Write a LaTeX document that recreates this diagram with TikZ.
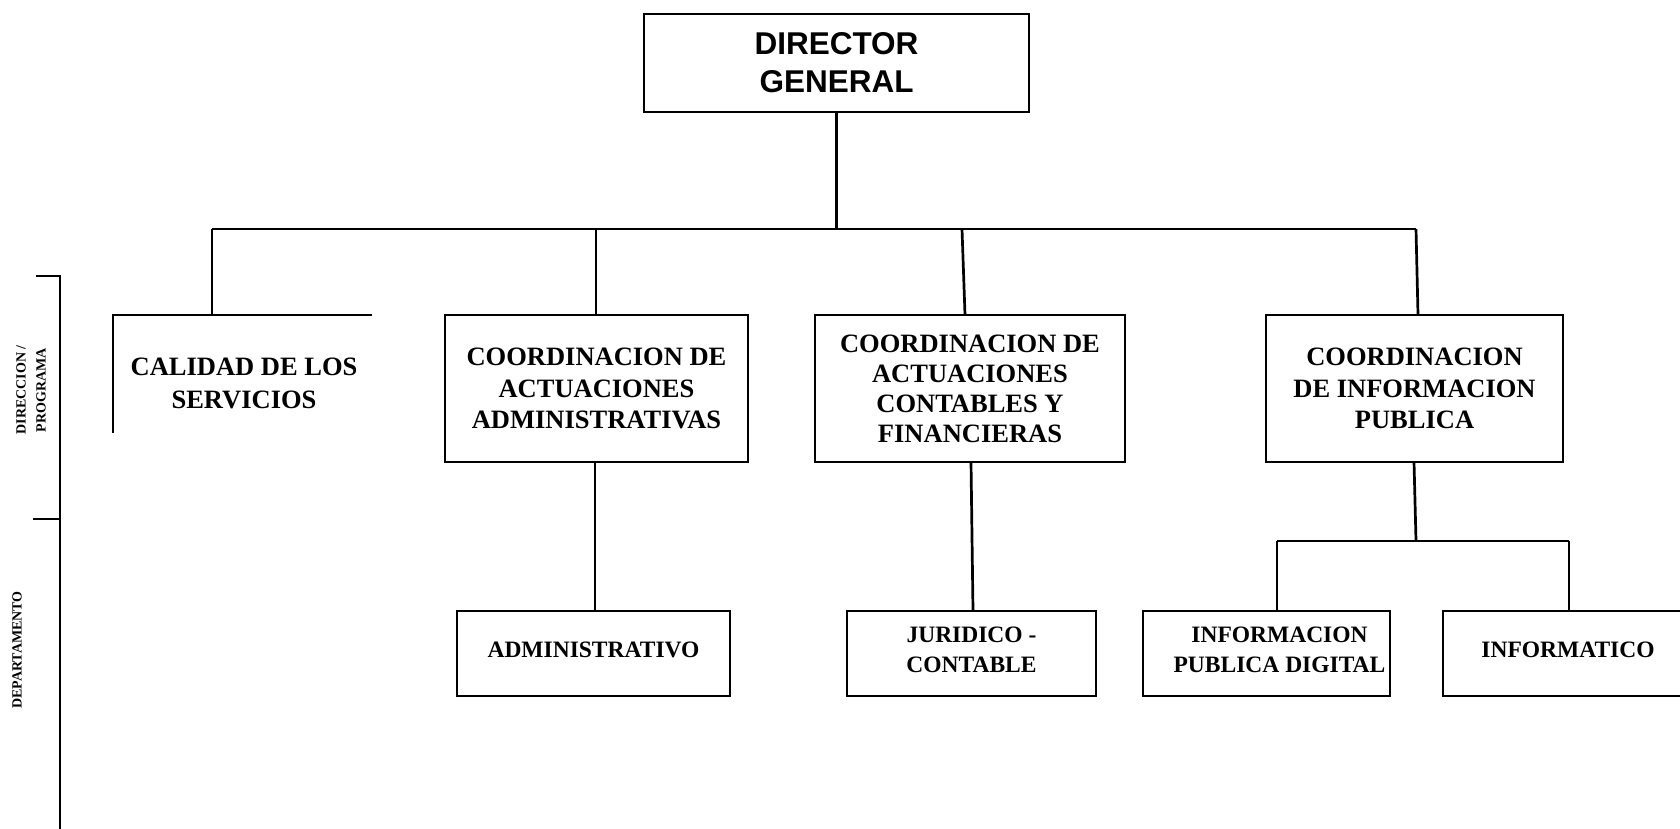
\documentclass[tikz,border=0pt]{standalone}
\usepackage{fontspec}
\setmainfont{Liberation Serif}
\newfontfamily\arialfont{Liberation Sans}
\begin{document}
\begin{tikzpicture}[x=1pt,y=-1pt,
  box/.style={draw, line width=2.3pt, rectangle, inner sep=0pt, align=center},
  coordtxt/.style={font=\bfseries\fontsize{26.5}{31.5}\selectfont},
  deptxt/.style={font=\bfseries\fontsize{23.5}{30.5}\selectfont, text depth=8pt},
  sidetxt/.style={font=\bfseries\fontsize{14}{20}\selectfont, align=center, rotate=90, inner sep=0pt},
  conn/.style={line width=2.7pt}]
\useasboundingbox (0,0) rectangle (1680,828);
\clip (0,0) rectangle (1680,828);

% Director
\node[box, minimum width=385pt, minimum height=98pt,
      font=\arialfont\bfseries\fontsize{31.5}{38}\selectfont] (dir) at (836.5,63) {DIRECTOR\\GENERAL};

% Level 1
\node[align=center, inner sep=0pt, font=\bfseries\fontsize{26.5}{33}\selectfont] (cal) at (244,383) {CALIDAD DE LOS\\SERVICIOS};
\coordinate (calTL) at (113,315);
\coordinate (calTR) at (372,315);
\coordinate (calBL) at (113,433);
\coordinate (calTop) at (212,315);

\node[box, coordtxt, minimum width=303pt, minimum height=147pt] (cadm) at (596.5,388.5) {COORDINACION DE\\ACTUACIONES\\ADMINISTRATIVAS};
\node[box, coordtxt, font=\bfseries\fontsize{26.5}{30}\selectfont, minimum width=310pt, minimum height=147pt] (ccon) at (970,388.5) {COORDINACION DE\\ACTUACIONES\\CONTABLES Y\\FINANCIERAS};
\node[box, coordtxt, minimum width=297pt, minimum height=147pt] (cinf) at (1414.5,388.5) {COORDINACION\\DE INFORMACION\\PUBLICA};

% Level 2
\node[box, deptxt, minimum width=273pt, minimum height=85pt] (adm) at (593.5,653.5) {ADMINISTRATIVO};
\node[box, deptxt, minimum width=249pt, minimum height=85pt] (jur) at (971.5,653.5) {JURIDICO -\\CONTABLE};
\node[box, minimum width=247pt, minimum height=85pt] (ipd) at (1266.5,653.5) {};
\node[deptxt, align=center, inner sep=0pt] (ipdt) at (1279.5,653.5) {INFORMACION\\PUBLICA DIGITAL};
\node[box, deptxt, minimum width=250pt, minimum height=85pt] (inf) at (1568,653.5) {INFORMATICO};

% Bars
\coordinate (barL) at (212,229);
\coordinate (barM) at (836.5,229);
\coordinate (barR) at (1416,229);
\coordinate (barC) at (962,229);
\coordinate (barA) at (596,229);
\coordinate (bar2L) at (1277,541);
\coordinate (bar2M) at (1416,541);
\coordinate (bar2R) at (1569,541);

\draw[conn] (dir.south) -- (barM);
\draw[conn] (barL) -- (barR);
\draw[conn] (barL) -- (calTop);
\draw[conn] (barA) -- (cadm.north -| barA);
\draw[conn] (barC) -- (965,315);
\draw[conn] (barR) -- (1418,315);
\draw[line width=2.3pt] (calBL) -- (calTL) -- (calTR);

\draw[conn] (595,462) -- (595,611);
\draw[conn] (971,462) -- (973,611);
\draw[conn] (1414,462) -- (bar2M);
\draw[conn] (bar2L) -- (bar2R);
\draw[conn] (bar2L) -- (ipd.north -| bar2L);
\draw[conn] (bar2R) -- (inf.north -| bar2R);

% Side bracket
\coordinate (brT) at (60,276);
\coordinate (brB) at (60,830);
\coordinate (brM) at (60,519);
\draw[conn] (36,276) -- (brT) -- (brB);
\draw[conn] (33,519) -- (brM);
\node[sidetxt] (lblDir) at (31,390) {DIRECCION /\\PROGRAMA};
\node[sidetxt] (lblDep) at (17,650) {DEPARTAMENTO};
\end{tikzpicture}
\end{document}
